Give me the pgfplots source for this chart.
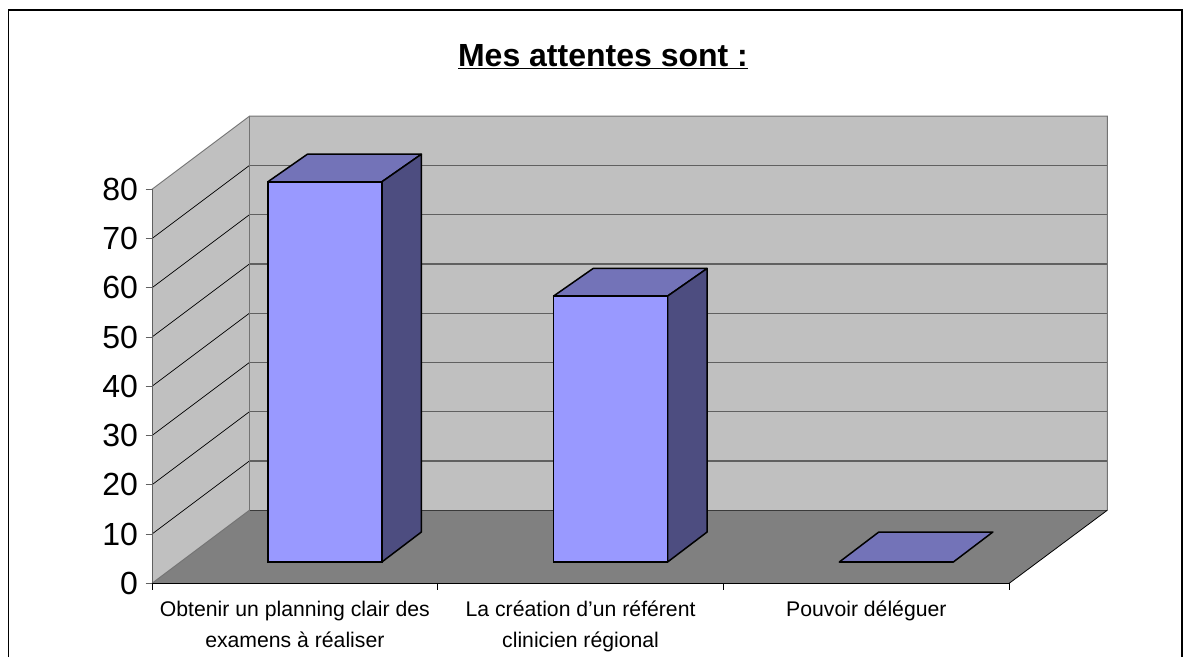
\documentclass[border=0pt]{standalone}
\usepackage{pgfplots}
\pgfplotsset{compat=1.18}
\usepackage{fontspec}
\setmainfont{Liberation Sans}[Ligatures=ResetAll]
\definecolor{wall}{HTML}{C0C0C0}
\definecolor{floorc}{HTML}{808080}
\definecolor{front}{HTML}{9999FF}
\definecolor{sidec}{HTML}{4D4D80}
\definecolor{topc}{HTML}{7373B8}
\definecolor{gridc}{HTML}{606060}
\begin{document}
\begin{tikzpicture}[x=1pt,y=1pt]
\useasboundingbox (0,0) rectangle (1192,657);
\draw[black,line width=1.3pt] (8.5,0) -- (8.5,647) -- (1182,647) -- (1182,0);
\node[font=\fontsize{32}{38}\selectfont\bfseries] at (603,600) {\underline{Mes attentes sont :}};
\begin{axis}[
  at={(152pt,73.7pt)},anchor=south west,
  scale only axis,width=857.2pt,height=394pt,
  xmin=0,xmax=3,ymin=0,ymax=80,
  clip=false,axis on top,
  unbounded coords=jump,
  axis x line*=bottom,axis y line*=left,
  axis line style={-},
  x axis line style={black,line width=1pt},
  y axis line style={gridc,line width=1pt},
  ytick={0,10,...,80},
  xtick={0.5,1.5,2.5},
  minor xtick={0,1,2,3},
  xticklabels={{Obtenir un planning clair des\\examens à réaliser},{La création d'un référent\\clinicien régional},{Pouvoir déléguer}},
  x tick label style={font=\fontsize{21.2}{31}\selectfont,align=center,anchor=north,yshift=-8pt},
  y tick label style={font=\fontsize{32}{36}\selectfont,xshift=-4pt},
  /pgf/number format/assume math mode=true,
  tick align=outside,
  major x tick style={draw=none},
  minor x tick style={black,line width=0.8pt},
  minor tick length=6.5pt,
  major tick length=6.5pt,
  y tick style={gridc,line width=0.9pt},
]
\addplot[fill=wall,draw=none] coordinates {(0,0)(0.3413,14.85)(0.3413,94.85)(0,80)} --cycle;
\addplot[fill=wall,draw=none] coordinates {(0.3413,14.85)(3.3437,14.85)(3.3437,94.85)(0.3413,94.85)} --cycle;
\addplot[fill=floorc,draw=none] coordinates {(0,0)(3,0)(3.3437,14.85)(0.3413,14.85)} --cycle;
\addplot[gridc,line width=1.2pt] coordinates {
 (0.3413,24.85)(3.3437,24.85)(nan,nan)
 (0.3413,34.85)(3.3437,34.85)(nan,nan)
 (0.3413,44.85)(3.3437,44.85)(nan,nan)
 (0.3413,54.85)(3.3437,54.85)(nan,nan)
 (0.3413,64.85)(3.3437,64.85)(nan,nan)
 (0.3413,74.85)(3.3437,74.85)(nan,nan)
 (0.3413,84.85)(3.3437,84.85)};
\addplot[gridc!60!black,line width=1.1pt] coordinates {(0.3413,14.85)(3.3437,14.85)};
\addplot[black,line width=0.7pt] coordinates {
 (0,10)(0.3413,24.85)(nan,nan)
 (0,20)(0.3413,34.85)(nan,nan)
 (0,30)(0.3413,44.85)(nan,nan)
 (0,40)(0.3413,54.85)(nan,nan)
 (0,50)(0.3413,64.85)(nan,nan)
 (0,60)(0.3413,74.85)(nan,nan)
 (0,70)(0.3413,84.85)};
\addplot[gridc!80!wall,line width=0.9pt] coordinates {(0,0)(0.3413,14.85)(0.3413,94.85)(3.3437,94.85)(3.3437,14.85)};
\addplot[gridc!80!wall,line width=0.9pt] coordinates {(0,80)(0.3413,94.85)};
\addplot[black,line width=0.8pt] coordinates {(3,0)(3.3437,14.85)};
\end{axis}
\begin{axis}[
  at={(182pt,95pt)},anchor=south west,
  scale only axis,width=857.2pt,height=394pt,
  xmin=0,xmax=3,ymin=0,ymax=80,
  clip=false,hide axis,
]
\addplot[fill=topc,draw=black,line width=1.5pt,line join=round] coordinates {(0.3005,77.2)(0.6995,77.2)(0.8378,82.8)(0.4388,82.8)} --cycle;
\addplot[fill=sidec,draw=black,line width=1.5pt,line join=round] coordinates {(0.6995,0)(0.8378,6.09)(0.8378,82.8)(0.6995,77.2)} --cycle;
\addplot[fill=topc,draw=black,line width=1.5pt,line join=round] coordinates {(1.3005,54)(1.6995,54)(1.8378,59.6)(1.4388,59.6)} --cycle;
\addplot[fill=sidec,draw=black,line width=1.5pt,line join=round] coordinates {(1.6995,0)(1.8378,6.09)(1.8378,59.6)(1.6995,54)} --cycle;
\addplot[fill=topc,draw=black,line width=1.5pt,line join=round] coordinates {(2.3005,0)(2.6995,0)(2.8378,6.09)(2.4388,6.09)} --cycle;
\addplot[ybar,bar width=114pt,fill=front,draw=black,line width=1.5pt] coordinates {(0.5,77.2)(1.5,54)(2.5,0)};
\end{axis}
\end{tikzpicture}
\end{document}
